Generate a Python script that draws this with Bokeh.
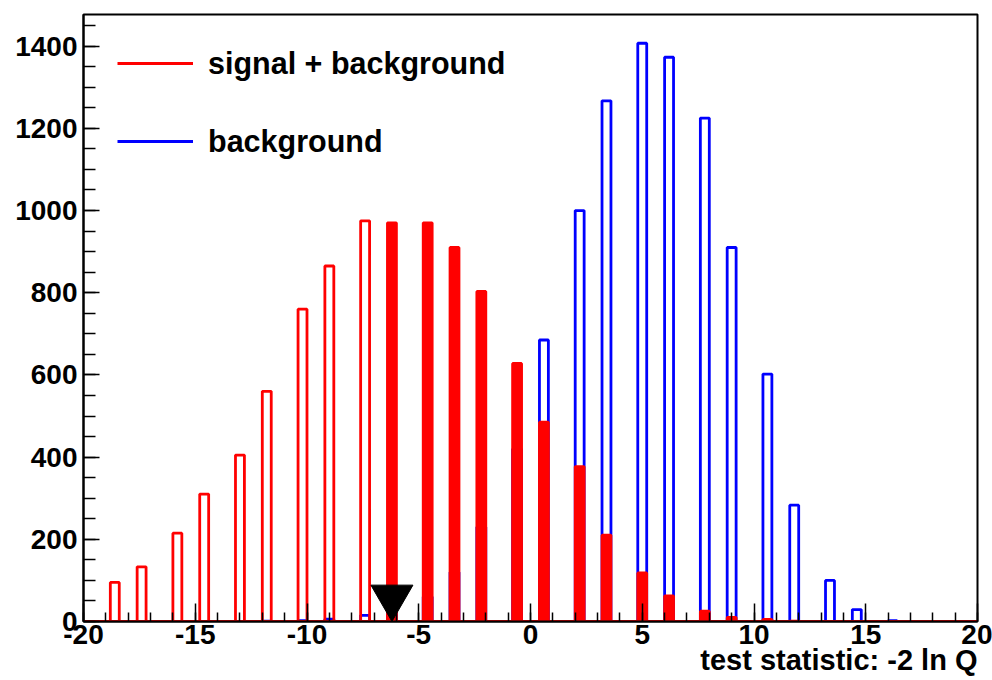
from bokeh.plotting import figure
from bokeh.models import (Range1d, SingleIntervalTicker, Legend, LegendItem,
                          PrintfTickFormatter, Title)
from bokeh.embed import file_html
from bokeh.resources import INLINE

# ---------------- data ----------------
BIN_WIDTH = 0.4
# bin centres of the occupied bins of the test statistic histogram
centers = [-18.6, -17.4, -15.8, -14.6, -13.0, -11.8, -10.2, -9.0, -7.4, -6.2,
           -4.6, -3.4, -2.2, -0.6, 0.6, 2.2, 3.4, 5.0, 6.2, 7.8,
           9.0, 10.6, 11.8, 13.4, 14.6, 16.2]
sig_bkg = [95, 133, 215, 310, 405, 560, 760, 865, 975, 970,
           970, 910, 803, 628, 485, 377, 210, 118, 62, 25,
           10, 5, 1, 0, 0, 0]
bkg = [0, 0, 0, 0, 0, 1, 2, 6, 15, 30,
       60, 120, 230, 420, 685, 1000, 1267, 1407, 1373, 1225,
       910, 602, 283, 100, 29, 2]
observed = -6.2
X_MIN, X_MAX = -20, 20
Y_MAX = 1477
x_label = "test statistic: -2 ln Q"
legend_labels = ["signal + background", "background"]

# ---------------- geometry ----------------
W, H = 992, 680
BL, BR, BT, BB = 83, 15, 14, 59
FRAME_W = W - BL - BR
FRAME_H = H - BT - BB
FONT = "Liberation Sans"

p = figure(width=W, height=H, output_backend="svg", toolbar_location=None,
           x_range=Range1d(X_MIN, X_MAX), y_range=Range1d(0, Y_MAX),
           min_border_left=BL, min_border_right=BR, min_border_top=BT,
           min_border_bottom=BB)
p.grid.visible = False
p.background_fill_color = "white"
p.border_fill_color = "white"
p.outline_line_color = "black"
p.outline_line_width = 2

LW = 2.8

# background histogram (blue outline)
bl, br, bt = [], [], []
for c, v in zip(centers, bkg):
    if v > 0:
        bl.append(c - BIN_WIDTH / 2); br.append(c + BIN_WIDTH / 2); bt.append(v)
p.quad(left=bl, right=br, bottom=0, top=bt, fill_color=None,
       line_color="#0000ff", line_width=LW)

# signal + background: hollow below observed, filled from observed on
hl, hr, ht, fl, fr, ft = [], [], [], [], [], []
for c, v in zip(centers, sig_bkg):
    if v <= 0:
        continue
    if c < observed - 1e-9:
        hl.append(c - BIN_WIDTH / 2); hr.append(c + BIN_WIDTH / 2); ht.append(v)
    else:
        fl.append(c - BIN_WIDTH / 2); fr.append(c + BIN_WIDTH / 2); ft.append(v)
p.quad(left=hl, right=hr, bottom=0, top=ht, fill_color=None,
       line_color="#ff0000", line_width=LW)
p.quad(left=fl, right=fr, bottom=0, top=ft, fill_color="#ff0000",
       line_color="#ff0000", line_width=LW)
# zero-level outline of the histogram
p.line(x=[X_MIN, X_MAX], y=[0, 0], line_color="#ff0000", line_width=3)

# observed value marker (inverted triangle, apex on the axis)
tri_size = 42
apex_px = tri_size / 2 * 3 ** 0.5 * 2 / 3
p.scatter(x=[observed], y=[apex_px * Y_MAX / FRAME_H], marker="inverted_triangle",
          size=tri_size, fill_color="black", line_color="black")

# legend (line renderers without visible data, only used for the legend)
nan = float("nan")
r1 = p.line(x=[nan, nan], y=[nan, nan], line_color="#ff0000", line_width=3)
r2 = p.line(x=[nan, nan], y=[nan, nan], line_color="#0000ff", line_width=3)
ITEM_H, ITEM_GAP = 36, 42
leg_h = 2 * ITEM_H + ITEM_GAP
leg = Legend(items=[LegendItem(label=legend_labels[0], renderers=[r1]),
                    LegendItem(label=legend_labels[1], renderers=[r2])],
             location=(34, FRAME_H - 31 - leg_h), margin=0, padding=0,
             spacing=ITEM_GAP, glyph_width=76, glyph_height=ITEM_H,
             label_height=ITEM_H, label_standoff=15, border_line_color=None,
             background_fill_alpha=0,
             label_text_font=FONT, label_text_font_style="bold",
             label_text_font_size="30.5px", label_text_color="black")
p.add_layout(leg, "center")

# axes
xa = p.xaxis[0]
xa.ticker = SingleIntervalTicker(interval=5, num_minor_ticks=5)
xa.formatter = PrintfTickFormatter(format="%d")
xa.major_tick_in = 18; xa.major_tick_out = 0
xa.minor_tick_in = 9; xa.minor_tick_out = 0
xa.axis_line_width = 2
xa.major_tick_line_width = 1.5; xa.minor_tick_line_width = 1.5
xa.major_label_text_font = FONT
xa.major_label_text_font_style = "bold"
xa.major_label_text_font_size = "28px"
xa.major_label_text_color = "black"
xa.major_label_standoff = 3

ya = p.yaxis[0]
ya.ticker = SingleIntervalTicker(interval=200, num_minor_ticks=4)
ya.formatter = PrintfTickFormatter(format="%d")
ya.major_tick_in = 16; ya.major_tick_out = 0
ya.minor_tick_in = 12; ya.minor_tick_out = 0
ya.axis_line_width = 2
ya.major_tick_line_width = 1.5; ya.minor_tick_line_width = 1.5
ya.major_label_text_font = FONT
ya.major_label_text_font_style = "bold"
ya.major_label_text_font_size = "28px"
ya.major_label_text_color = "black"
ya.major_label_standoff = 6

# x-axis title, right aligned under the axis (ROOT style)
p.add_layout(Title(text=x_label, align="right", standoff=-10,
                   text_font=FONT, text_font_style="bold",
                   text_font_size="29px", text_color="black"), "below")

open("out.html", "w").write(file_html(p, INLINE))
